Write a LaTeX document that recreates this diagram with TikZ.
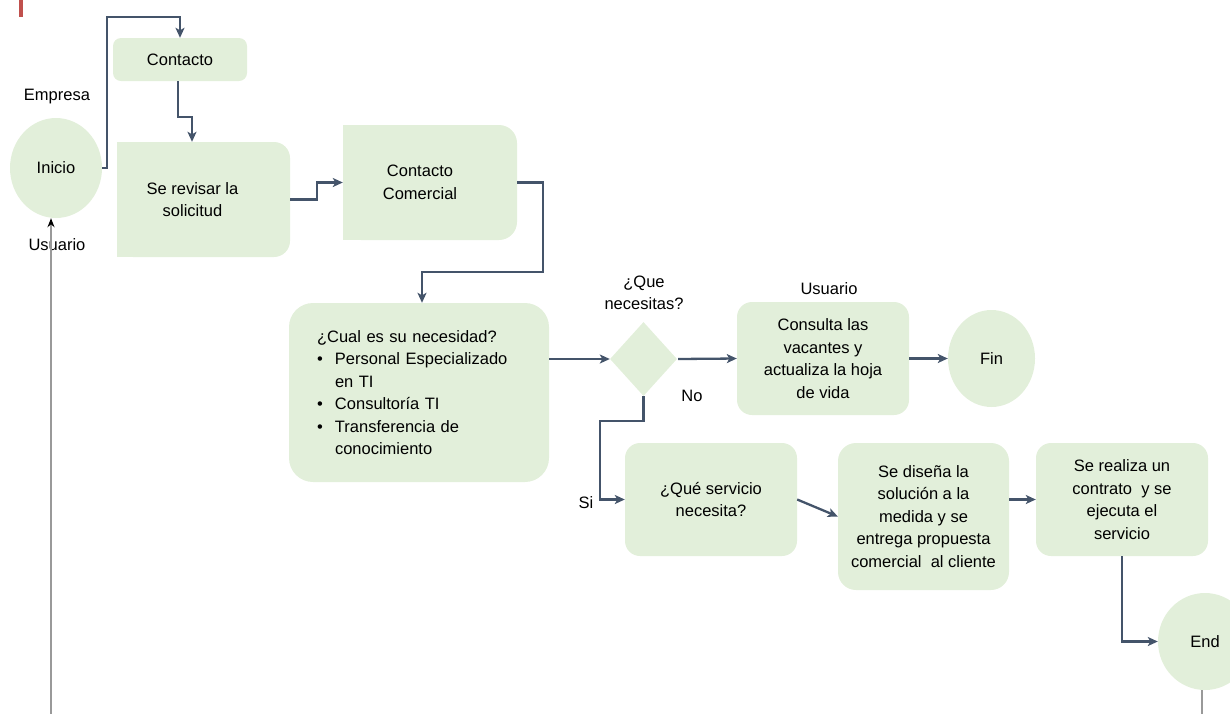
\documentclass[tikz,border=0pt]{standalone}
\usepackage{fontspec}
\setmainfont{Liberation Sans}
\usetikzlibrary{arrows.meta,shapes.geometric,backgrounds}
\definecolor{boxgreen}{HTML}{E2EFDA}
\definecolor{linkblue}{HTML}{44546A}
\definecolor{markred}{HTML}{C0504D}
\begin{document}
\begin{tikzpicture}[x=1pt,y=-1pt,
  txt/.style={font=\fontsize{16.5}{22.5}\selectfont, align=center, inner sep=0pt},
  stepbox/.style={txt, fill=boxgreen, rounded corners=#1},
  stepbox/.default=15pt,
  terminal/.style={txt, ellipse, fill=boxgreen},
  conn/.style={draw=linkblue, line width=2.3pt, -{Stealth[length=10pt,width=9pt,inset=2.5pt]}},
  grayline/.style={draw=black!40, line width=1.5pt}]
\clip (0,0) rectangle (1230,713);

% corner mark
\fill[markred] (19,0) rectangle (23,17);

% start / end
\node[terminal, minimum width=92pt, minimum height=100pt] (inicio) at (56,168) {Inicio};
\node[terminal, minimum width=87pt, minimum height=97pt] (fin) at (991.5,358.5) {Fin};
\node[terminal, minimum width=94pt, minimum height=97pt] (end) at (1205,641.5) {End};

% process steps
\node[stepbox=8pt, minimum width=134pt, minimum height=43pt] (contacto) at (180,59.5) {Contacto};
\node[stepbox=16pt, minimum width=173pt, minimum height=115pt] (revisar) at (203.5,199.5)
  {Se revisar la\hspace*{22pt}\\solicitud\hspace*{22pt}};
\node[stepbox=18pt, minimum width=174pt, minimum height=115pt] (comercial) at (430,182.5)
  {Contacto\hspace*{20pt}\\Comercial\hspace*{20pt}};
\node[stepbox=24pt, align=left, text width=204pt, minimum width=260pt, minimum height=179pt] (need) at (419,392.5)
  {¿Cual es su necesidad?\\
   \makebox[18pt][l]{\textbullet}Personal Especializado\\
   \hspace*{18pt}en TI\\
   \makebox[18pt][l]{\textbullet}Consultoría TI\\
   \makebox[18pt][l]{\textbullet}Transferencia de\\
   \hspace*{18pt}conocimiento};
\node[diamond, fill=boxgreen, minimum width=67pt, minimum height=74pt, inner sep=0pt] (dia) at (643.5,359) {};
\node[stepbox, minimum width=172pt, minimum height=113pt] (consulta) at (823,358.5)
  {Consulta las\\vacantes y\\actualiza la hoja\\de vida};
\node[stepbox, minimum width=172pt, minimum height=113pt] (servicio) at (711,499.5)
  {¿Qué servicio\\necesita?};
\node[stepbox=18pt, minimum width=171pt, minimum height=147pt] (disena) at (923.5,516.5)
  {Se diseña la\\solución a la\\medida y se\\entrega propuesta\\comercial\ \ al cliente};
\node[stepbox, minimum width=172pt, minimum height=113pt] (realiza) at (1122,499.5)
  {Se realiza un\\contrato\ \ y se\\ejecuta el\\servicio};

% square left corners of two steps
\begin{scope}[on background layer]
  \fill[boxgreen] (revisar.south west) rectangle (revisar.north);
  \fill[boxgreen] (comercial.south west) rectangle (comercial.north);
\end{scope}

% free labels
\node[txt] (empresa) at (57,97) {Empresa};
\node[txt] (usr1) at (57,245) {Usuario};
\node[txt] (quelbl) at (644,293) {¿Que\\necesitas?};
\node[txt] (usr2) at (829,289) {Usuario};
\node[txt] (nolbl) at (692,396) {No};
\node[txt] (silbl) at (586,503) {Si};

\coordinate (ubot) at (51,716);

% connectors
\draw[conn] (inicio.east) -- (107,168) |- (180,17) -- (contacto.north);
\draw[conn] ([xshift=-2pt]contacto.south) -- (178,117) -| ([xshift=-11.5pt]revisar.north);
\draw[conn] (revisar.east) -- (317,199.5) |- (comercial.west);
\draw[conn] (comercial.east) -- (543,182.5) |- (422,272) -- ([xshift=3pt]need.north);
\draw[conn] (need.east |- dia.west) -- (dia.west);
\draw[conn] ([xshift=1pt]dia.east) -- (consulta.west);
\draw[conn] (dia.south) -- (643.5,421) -| ([xshift=-25pt]servicio.west) -- (servicio.west);
\draw[conn] (consulta.east) -- (fin.west);
\draw[conn] (servicio.east) -- (disena.west);
\draw[conn] (disena.east |- realiza.west) -- (realiza.west);
\draw[conn] (realiza.south) |- (end.west);

% user lane lines
\draw[grayline, -{Stealth[length=9pt,width=7pt,color=black]}] (ubot) -- ([xshift=-5pt]inicio.south);
\draw[grayline] ([xshift=-3pt]end.south) -- ([xshift=-3pt]end.south |- ubot);
\end{tikzpicture}
\end{document}
